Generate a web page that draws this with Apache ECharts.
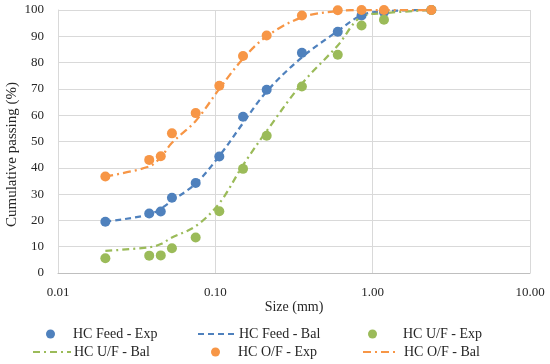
<!DOCTYPE html>
<html><head><meta charset="utf-8">
<script src="https://cdn.jsdelivr.net/npm/echarts@6/dist/echarts.min.js"></script>
<style>html,body{margin:0;padding:0;background:#fff}#c{width:550px;height:364px}</style>
</head><body><div id="c"></div>
<script>
const sizes = [0.02, 0.038, 0.045, 0.053, 0.075, 0.106, 0.15, 0.212, 0.355, 0.6, 0.85, 1.18, 2.36];
const feedExp = [19.5, 22.6, 23.4, 28.6, 34.2, 44.3, 59.4, 69.7, 83.7, 91.7, 97.9, 99.2, 100];
const feedBal = [19.5, 22.2, 24.5, 27.5, 34.0, 44.5, 57.0, 69.0, 82.0, 92.0, 98.0, 99.5, 100];
const ufExp = [5.6, 6.6, 6.7, 9.4, 13.5, 23.5, 39.6, 52.2, 70.9, 83.0, 94.1, 96.3, 100];
const ufBal = [8.4, 9.8, 11.0, 13.5, 17.8, 26.5, 41.0, 54.0, 72.0, 86.5, 97.5, 98.8, 100];
const ofExp = [36.7, 43.0, 44.4, 53.1, 60.8, 71.2, 82.5, 90.3, 97.9, 99.9, 100, 100, 100];
const ofBal = [36.7, 40.5, 44.0, 49.5, 57.8, 70.0, 81.5, 90.0, 97.2, 99.6, 100, 100, 100];
const xTicks = ['0.01', '0.10', '1.00', '10.00'];
const names = ['HC Feed - Exp', 'HC Feed - Bal', 'HC U/F - Exp', 'HC U/F - Bal', 'HC O/F - Exp', 'HC O/F - Bal'];

const BLUE = '#4F81BD', GREEN = '#9BBB59', ORANGE = '#F79646';
const FONT = 'Liberation Serif';
const TXT = '#262626';
const pair = (ys) => sizes.map((s, i) => [s, ys[i]]);

function scatter(name, ys, color) {
  return { name, type: 'scatter', data: pair(ys), symbol: 'circle', symbolSize: 10,
    itemStyle: { color, opacity: 1 }, z: 3 };
}
function line(name, ys, color, dash) {
  return { name, type: 'line', data: pair(ys), smooth: 0.35, showSymbol: false, symbol: 'none',
    lineStyle: { color, width: 2.25, type: dash }, itemStyle: { color }, z: 2 };
}

// [left, top, iconWidth, textPadLeft, isLine]
const legendLayout = [
  [46, 327, 9, 13, false], [197, 327, 38, -2, true], [368, 327, 9, 21, false],
  [32, 345, 38, -2, true], [211, 345, 9, 13, false], [362, 345, 36, 0, true]
];
const legends = names.map((n, i) => {
  const [l, t, w, p, isLine] = legendLayout[i];
  const lg = {
    data: [n], left: l, top: t, padding: 0,
    itemWidth: w, itemHeight: 9, itemGap: 0,
    textStyle: { fontFamily: FONT, fontSize: 14, color: TXT, padding: [0, 0, 0, p] },
    selectedMode: false
  };
  if (isLine) lg.itemStyle = { opacity: 0, borderWidth: 0 };
  return lg;
});

const chart = echarts.init(document.getElementById('c'));
chart.setOption({
  animation: false,
  backgroundColor: '#fff',
  grid: { left: 58, right: 20, top: 10, bottom: 91, containLabel: false, outerBoundsMode: 'none' },
  legend: legends,
  xAxis: {
    type: 'log', logBase: 10, min: 0.01, max: 10,
    name: 'Size (mm)', nameLocation: 'middle', nameGap: 27, nameMoveOverlap: false,
    nameTextStyle: { fontFamily: FONT, fontSize: 14, color: TXT },
    axisLine: { show: true, lineStyle: { color: '#BFBFBF', width: 1 } },
    axisTick: { show: false },
    axisLabel: { fontFamily: FONT, fontSize: 13, color: TXT, margin: 13,
      formatter: (v) => { const k = Math.round(Math.log10(v)) + 2; return xTicks[k] || ''; } },
    splitLine: { show: true, lineStyle: { color: '#D9D9D9', width: 1 } },
    minorTick: { show: false }
  },
  yAxis: {
    type: 'value', min: 0, max: 100, interval: 10,
    name: 'Cumulative passing (%)', nameLocation: 'middle', nameGap: 38, nameMoveOverlap: false,
    nameTextStyle: { fontFamily: FONT, fontSize: 15, color: TXT, padding: [0, 26, 0, 0] },
    axisLine: { show: true, lineStyle: { color: '#D9D9D9' } },
    axisTick: { show: false },
    axisLabel: { fontFamily: FONT, fontSize: 13, color: TXT, margin: 14 },
    splitLine: { show: true, lineStyle: { color: '#D9D9D9', width: 1 } }
  },
  series: [
    scatter(names[0], feedExp, BLUE),
    line(names[1], feedBal, BLUE, [6, 4]),
    scatter(names[2], ufExp, GREEN),
    line(names[3], ufBal, GREEN, [7, 4, 2, 4]),
    scatter(names[4], ofExp, ORANGE),
    line(names[5], ofBal, ORANGE, [8, 4, 2, 4])
  ]
});
</script></body></html>
